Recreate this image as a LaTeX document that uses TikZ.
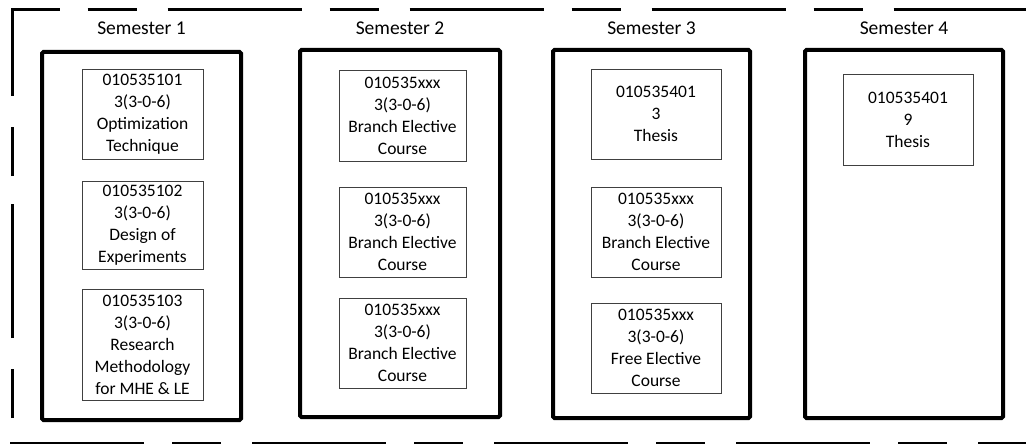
\documentclass[tikz,border=0pt]{standalone}
\usepackage{fontspec}
\setmainfont{Carlito}
\usetikzlibrary{positioning}

\begin{document}
\begin{tikzpicture}[x=1pt,y=-1pt,
    frameline/.style={line width=3pt,dash pattern=on 134pt off 28pt on 49pt off 31pt},
    sembox/.style={draw,line width=4pt,rounded corners=1.5pt,minimum height=368pt,inner sep=0pt},
    semlabel/.style={inner sep=0pt,font=\fontsize{19.5}{22}\selectfont},
    course/.style={draw=black!75,line width=0.9pt,align=center,inner sep=0pt,font=\fontsize{17.5}{22}\selectfont}]
        \useasboundingbox (0,0) rectangle (1026,444);
        \clip (0,0) rectangle (1026,444);

        \draw [frameline,dash phase=138pt] (12,442) -- (12,9.5) -- (1060,9.5);
        \draw [frameline] (10,443.5) -- (1060,443.5);

        \node [sembox,minimum width=199pt] (sem1) at (141.5,236) {};
        \node [semlabel,above=15pt of sem1] (lab1) {Semester 1};
            \node [course,minimum width=121pt,minimum height=90pt] (c11) at (142.5,114)
                {010535101\\3(3-0-6)\\Optimization\\Technique};
            \node [course,minimum width=121pt,minimum height=88pt] (c12) at (142.5,225)
                {010535102\\3(3-0-6)\\Design of\\Experiments};
            \node [course,minimum width=121pt,minimum height=111pt] (c13) at (142.5,344.5)
                {010535103\\3(3-0-6)\\Research\\Methodology\\for MHE \& LE};

        \node [sembox,minimum width=200pt,minimum height=367pt] (sem2) at (400,233.5) {};
        \node [semlabel,above=13pt of sem2] (lab2) {Semester 2};
            \node [course,minimum width=127pt,minimum height=91pt] (c21) at (402.5,115.5)
                {010535xxx\\3(3-0-6)\\Branch Elective\\Course};
            \node [course,minimum width=127pt,minimum height=90pt] (c22) at (402.5,232)
                {010535xxx\\3(3-0-6)\\Branch Elective\\Course};
            \node [course,minimum width=127pt,minimum height=90pt] (c23) at (402.5,343)
                {010535xxx\\3(3-0-6)\\Branch Elective\\Course};

        \node [sembox,minimum width=197pt] (sem3) at (651.5,234) {};
        \node [semlabel,above=13pt of sem3] (lab3) {Semester 3};
            \node [course,minimum width=130pt,minimum height=90pt] (c31) at (656,114)
                {010535401\\3\\Thesis};
            \node [course,minimum width=130pt,minimum height=90pt] (c32) at (656,232)
                {010535xxx\\3(3-0-6)\\Branch Elective\\Course};
            \node [course,minimum width=130pt,minimum height=90pt] (c33) at (656,348)
                {010535xxx\\3(3-0-6)\\Free Elective\\Course};

        \node [sembox,minimum width=198pt] (sem4) at (904,234) {};
        \node [semlabel,above=13pt of sem4] (lab4) {Semester 4};
            \node [course,minimum width=130pt,minimum height=91pt] (c41) at (908,119.5)
                {010535401\\9\\Thesis};
\end{tikzpicture}
\end{document}
